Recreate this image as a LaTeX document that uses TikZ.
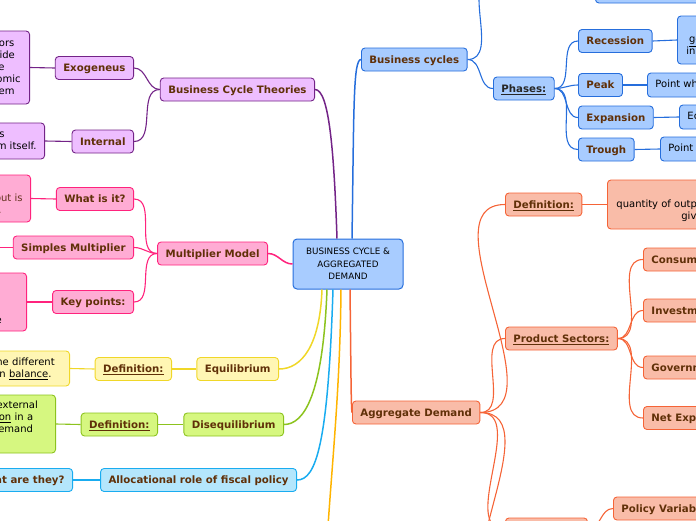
\documentclass[tikz,border=0pt]{standalone}
\usepackage{fontspec}
\setmainfont{DejaVu Sans}

\definecolor{bluefill}{RGB}{168,204,255}
\definecolor{blueline}{RGB}{38,110,220}
\definecolor{purplefill}{RGB}{238,190,255}
\definecolor{purpleline}{RGB}{115,35,135}
\definecolor{pinkfill}{RGB}{255,172,212}
\definecolor{pinkline}{RGB}{255,35,125}
\definecolor{yellowfill}{RGB}{255,246,180}
\definecolor{yellowline}{RGB}{240,215,40}
\definecolor{greenfill}{RGB}{214,247,128}
\definecolor{greenline}{RGB}{140,195,30}
\definecolor{cyanfill}{RGB}{180,230,252}
\definecolor{cyanline}{RGB}{25,172,240}
\definecolor{orangeline}{RGB}{255,180,0}
\definecolor{salmonfill}{RGB}{249,188,168}
\definecolor{salmonline}{RGB}{245,100,55}
\definecolor{topictext}{RGB}{96,48,8}
\definecolor{whatcol}{RGB}{100,50,30}

\begin{document}
\begin{tikzpicture}[x=1pt, y=1pt,
box/.style={draw, rounded corners=3.5pt, line width=0.9pt},
topic/.style={box, minimum height=23pt, inner xsep=8pt, inner ysep=0pt, text height=7.6pt, text depth=0pt, text=topictext, font=\fontsize{10.2}{12}\selectfont\bfseries},
note/.style={box, inner xsep=8pt, inner ysep=0pt, align=center, font=\fontsize{10}{12}\selectfont},
bluebr/.style={fill=bluefill, draw=blueline},
purplebr/.style={fill=purplefill, draw=purpleline},
pinkbr/.style={fill=pinkfill, draw=pinkline},
yellowbr/.style={fill=yellowfill, draw=yellowline},
greenbr/.style={fill=greenfill, draw=greenline},
cyanbr/.style={fill=cyanfill, draw=cyanline},
salmonbr/.style={fill=salmonfill, draw=salmonline},
trunk/.style={line width=1.5pt},
twig/.style={line width=1.1pt}]

\path[use as bounding box, clip] (0,0) rectangle (696,-520);

% centre
\node[box, bluebr, line width=1pt, rounded corners=4pt, minimum width=110pt, minimum height=50pt, align=center, font=\fontsize{8.8}{12.7}\selectfont] (core) at (348,-264) {BUSINESS CYCLE \&\\AGGREGATED\\DEMAND};

% left side
\node[topic, purplebr, anchor=east] (bct) at (315,-89.5) {Business Cycle Theories};
\node[topic, purplebr, anchor=east] (exo) at (134,-68) {Exogeneus};
\node[topic, purplebr, anchor=east] (intl) at (134,-141.5) {Internal};
\node[note, purplebr, anchor=east, inner xsep=9pt, minimum height=73pt] (exonote) at (30,-67.5) {Factors\\outside\\the\\economic\\system};
\node[note, purplebr, anchor=east, minimum height=36pt] (intnote) at (45,-141) {Caused by forces\\of the economic system itself.};

\node[topic, pinkbr, anchor=east] (mult) at (268,-253.5) {Multiplier Model};
\node[topic, pinkbr, anchor=east] (whatis) at (134,-199) {What is it?};
\node[topic, pinkbr, anchor=east] (simples) at (134,-247.5) {Simples Multiplier};
\node[topic, pinkbr, anchor=east] (keypts) at (134,-302) {Key points:};
\node[note, pinkbr, anchor=east, minimum height=47pt, text=whatcol] (whatnote) at (31,-198.5) {It measures\\by how much total output is\\raised by spending.};
\node[note, pinkbr, anchor=east, minimum height=58pt, text width=151.5pt] (keynote) at (27,-302) {A small change\\in spending\\leads to a larger rise in\\overall national income};
\coordinate (simplesend) at (-30,-247.5);

\node[topic, yellowbr, anchor=east] (equi) at (279,-369) {Equilibrium};
\node[topic, yellowbr, anchor=east] (eqdef) at (172,-369) {\underline{Definition:}};
\node[note, yellowbr, anchor=east, text width=167pt, minimum height=35pt] (eqnote) at (70,-368.5) {A situation where the different\\market forces are in \underline{balance}.};

\node[topic, greenbr, anchor=east] (diseq) at (284,-424.5) {Disequilibrium};
\node[topic, greenbr, anchor=east] (diseqdef) at (158,-424.5) {\underline{Definition:}};
\node[note, greenbr, anchor=east, text width=154pt, minimum height=58pt] (diseqnote) at (56,-424) {A state caused by external\\forces, or a \underline{situation} in a\\market with low demand\\or supply.};

\node[topic, cyanbr, anchor=east] (alloc) at (297,-480) {Allocational role of fiscal policy};
\node[topic, cyanbr, anchor=east] (whatthey) at (73,-480) {What are they?};
\coordinate (goldend) at (326,-560);

% right side
\node[topic, bluebr, anchor=west] (bcyc) at (361,-59.5) {Business cycles};
\node[topic, bluebr, anchor=west, minimum width=80pt] (bcdef) at (493,22) {};
\node[note, bluebr, anchor=west, minimum width=120pt, minimum height=50pt] (bcnote) at (595,22) {};
\node[topic, bluebr, anchor=west, text=black!85] (phases) at (493,-88.5) {\underline{Phases:}};
\node[topic, bluebr, anchor=west] (recess) at (578,-41) {Recession};
\node[topic, bluebr, anchor=west] (peak) at (578,-85) {Peak};
\node[topic, bluebr, anchor=west] (expan) at (578,-117.5) {Expansion};
\node[topic, bluebr, anchor=west] (trough) at (578,-149.5) {Trough};
\node[note, bluebr, anchor=west, inner xsep=9pt, minimum height=48pt] (recnote) at (677,-40) {A period of\\\underline{general} economic decline\\in output, income and jobs};
\node[note, bluebr, anchor=west, minimum height=24pt] (peaknote) at (647,-85) {Point where the economy is at its highest};
\node[note, bluebr, anchor=west, minimum height=24pt] (expnote) at (679,-117) {Economic growth, rising output and jobs};
\node[note, bluebr, anchor=west, minimum height=24pt] (trnote) at (660,-149) {Point where the economy is at its lowest};

\node[topic, salmonbr, anchor=west] (agg) at (352,-412.5) {Aggregate Demand};
\node[topic, salmonbr, anchor=west] (aggdef) at (505,-204.5) {\underline{Definition:}};
\node[topic, salmonbr, anchor=west] (sectors) at (505,-338.5) {\underline{Product Sectors:}};
\node[topic, salmonbr, anchor=west, minimum width=82pt] (aggsub) at (505,-529.5) {};
\coordinate (aggend) at (505,-600);
\node[note, salmonbr, anchor=west, inner xsep=9pt, minimum height=49pt] (defnote) at (607,-204.5) {The total\\quantity of output demanded at each price level\\given all other factors.};
\node[topic, salmonbr, anchor=west] (consum) at (643,-259.5) {Consumption};
\node[topic, salmonbr, anchor=west] (invest) at (643,-310.5) {Investment};
\node[topic, salmonbr, anchor=west] (govern) at (643,-367.5) {Government};
\node[topic, salmonbr, anchor=west] (netexp) at (643,-418) {Net Exports};
\node[topic, salmonbr, anchor=west] (policy) at (613,-508.5) {Policy Variables};

% main branches
\draw[trunk, purpleline] ([xshift=-11pt]core.north) .. controls (334,-150) and (329,-89.5) .. (bct.east);
\draw[trunk, blueline] ([xshift=4pt]core.north) .. controls (354,-110) and (353,-59.5) .. (bcyc.west);
\draw[trunk, pinkline] (core.west) to[out=180,in=0] (mult.east);
\draw[trunk, yellowline] ([xshift=-26pt]core.south) .. controls (320,-345) and (302,-369) .. (equi.east);
\draw[trunk, greenline] ([xshift=-21pt]core.south) .. controls (323,-395) and (304,-424.5) .. (diseq.east);
\draw[trunk, cyanline] ([xshift=-15pt]core.south) .. controls (328,-445) and (316,-480) .. (alloc.east);
\draw[trunk, orangeline] ([xshift=-7pt]core.south) .. controls (340,-400) and (330,-480) .. (goldend);
\draw[trunk, salmonline] ([xshift=2pt]core.south) .. controls (351,-370) and (351,-405) .. (agg.west);

% sub branches
\draw[twig, purpleline] (bct.west) to[out=180,in=0] (exo.east);
\draw[twig, purpleline] (bct.west) to[out=180,in=0] (intl.east);
\draw[twig, purpleline] (exo.west) -- (exonote.east);
\draw[twig, purpleline] (intl.west) -- (intnote.east);

\draw[twig, pinkline] (mult.west) to[out=180,in=0] (whatis.east);
\draw[twig, pinkline] (mult.west) to[out=180,in=0] (simples.east);
\draw[twig, pinkline] (mult.west) to[out=180,in=0] (keypts.east);
\draw[twig, pinkline] (whatis.west) -- (whatnote.east);
\draw[twig, pinkline] (simples.west) -- (simplesend);
\draw[twig, pinkline] (keypts.west) -- (keynote.east);

\draw[twig, yellowline] (equi.west) -- (eqdef.east);
\draw[twig, yellowline] (eqdef.west) -- (eqnote.east);
\draw[twig, greenline] (diseq.west) -- (diseqdef.east);
\draw[twig, greenline] (diseqdef.west) -- (diseqnote.east);
\draw[twig, cyanline] (alloc.west) -- (whatthey.east);

\draw[twig, blueline] (bcyc.east) to[out=0,in=180] (bcdef.west);
\draw[twig, blueline] (bcdef.east) -- (bcnote.west);
\draw[twig, blueline] (bcyc.east) to[out=0,in=180] (phases.west);
\foreach \p in {recess, peak, expan, trough}
  \draw[twig, blueline] (phases.east) to[out=0,in=180] (\p.west);
\draw[twig, blueline] (recess.east) -- (recnote.west);
\draw[twig, blueline] (peak.east) -- (peaknote.west);
\draw[twig, blueline] (expan.east) -- (expnote.west);
\draw[twig, blueline] (trough.east) -- (trnote.west);

\foreach \s in {aggdef, sectors, aggsub}
  \draw[twig, salmonline] (agg.east) to[out=0,in=180] (\s.west);
\draw[twig, salmonline] (agg.east) to[out=0,in=180] (aggend);
\draw[twig, salmonline] (aggdef.east) -- (defnote.west);
\foreach \s in {consum, invest, govern, netexp}
  \draw[twig, salmonline] (sectors.east) to[out=0,in=180] (\s.west);
\draw[twig, salmonline] (aggsub.east) to[out=0,in=180] (policy.west);

\end{tikzpicture}
\end{document}
